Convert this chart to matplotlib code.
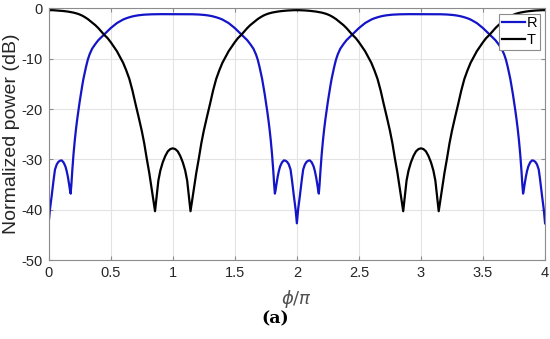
import numpy as np
import matplotlib
matplotlib.use('Agg')
import matplotlib.pyplot as plt

#--- Data (one half period, phi/pi = 0..1) ------------------------------------
# the curves are symmetric about phi/pi = 1 and repeat every 2
x_half = [0, 0.01, 0.024, 0.04, 0.051, 0.065, 0.078, 0.092, 0.105, 0.12,
          0.135, 0.145, 0.155, 0.165, 0.172, 0.177, 0.183, 0.19, 0.2, 0.21,
          0.22, 0.23, 0.24, 0.25, 0.26, 0.27, 0.28, 0.29, 0.3, 0.315,
          0.33, 0.35, 0.375, 0.4, 0.425, 0.446, 0.475, 0.5, 0.55, 0.6,
          0.625, 0.65, 0.675, 0.7, 0.725, 0.75, 0.77, 0.79, 0.81, 0.83,
          0.845, 0.857, 0.87, 0.884, 0.9, 0.919, 0.94, 0.96, 0.98, 1.0]

R_half = [-42.7, -40.0, -37.3, -34.0, -32.0, -31.0, -30.5, -30.25, -30.2, -30.6,
          -31.4, -32.3, -33.5, -35.0, -36.2, -36.8, -35.0, -32.3, -29.0, -26.3,
          -24.0, -22.0, -20.2, -18.5, -16.9, -15.4, -14.0, -12.8, -11.7, -10.2,
          -9.1, -8.0, -7.1, -6.3, -5.7, -5.2, -4.5, -3.9, -2.9, -2.2,
          -1.95, -1.75, -1.58, -1.45, -1.35, -1.28, -1.23, -1.2, -1.18, -1.16,
          -1.15, -1.14, -1.14, -1.13, -1.13, -1.13, -1.13, -1.13, -1.13, -1.13]

T_half = [-0.33, -0.33, -0.34, -0.35, -0.37, -0.39, -0.41, -0.44, -0.47, -0.51,
          -0.55, -0.58, -0.62, -0.66, -0.69, -0.71, -0.74, -0.77, -0.82, -0.88,
          -0.95, -1.02, -1.1, -1.2, -1.3, -1.42, -1.55, -1.7, -1.85, -2.1,
          -2.4, -2.8, -3.3, -3.9, -4.6, -5.2, -5.9, -6.7, -8.5, -10.8,
          -12.3, -14.0, -16.3, -19.0, -21.6, -24.3, -26.8, -29.8, -32.6, -35.8,
          -38.3, -40.3, -37.3, -34.2, -32.2, -30.6, -29.3, -28.4, -27.95, -27.8]

xticks = [0, 0.5, 1, 1.5, 2, 2.5, 3, 3.5, 4]
yticks = [0, -10, -20, -30, -40, -50]

#--- Build the full 0..4 range from the half period ---------------------------
xh = np.array(x_half)
one_period_x = np.concatenate([xh, 2 - xh[::-1][1:]])
one_period_R = np.concatenate([R_half, R_half[::-1][1:]])
one_period_T = np.concatenate([T_half, T_half[::-1][1:]])

x = np.concatenate([one_period_x, one_period_x[1:] + 2])
R = np.concatenate([one_period_R, one_period_R[1:]])
T = np.concatenate([one_period_T, one_period_T[1:]])

#--- Plot --------------------------------------------------------------------
plt.rcParams['font.family'] = ['Liberation Sans', 'DejaVu Sans']
plt.rcParams['axes.unicode_minus'] = False

fig = plt.figure(figsize=(5.5, 3.39), dpi=100)
ax = fig.add_axes([0.0885, 0.233, 0.9025, 0.742])

ax.plot(x, R, color='#1414C8', linewidth=1.6, label='R')
ax.plot(x, T, color='#000000', linewidth=1.6, label='T')

ax.set_xlim(0, 4)
ax.set_ylim(-50, 0)
ax.set_xticks(xticks)
ax.set_xticklabels([('%g' % v) for v in xticks])
ax.set_yticks(yticks)
ax.set_yticklabels([('%g' % v) for v in yticks])

ax.grid(True, color='#E3E3E3', linewidth=0.8)
ax.set_axisbelow(True)
for s in ax.spines.values():
    s.set_color('#8C8C8C')
    s.set_linewidth(0.8)
ax.tick_params(direction='in', length=3, colors='#8C8C8C', labelcolor='#262626',
               labelsize=10.5, top=True, right=True, pad=4)

ax.set_ylabel('Normalized power (dB)', fontsize=14, color='#262626', labelpad=1)
ax.set_xlabel(r'$\phi/\pi$', fontsize=13, color='#505050', labelpad=6)

leg = ax.legend(loc='upper right', fontsize=10.5, handlelength=1.6, handletextpad=0.1,
                borderpad=0.2, labelspacing=0.2, borderaxespad=0.35,
                fancybox=False, framealpha=1, edgecolor='#8C8C8C')
leg.get_frame().set_linewidth(0.8)

fig.text(0.5, 0.058, '(a)', ha='center', va='center', fontsize=12.5,
         fontweight='bold', family='DejaVu Serif')

plt.savefig('out.png', dpi=100)
